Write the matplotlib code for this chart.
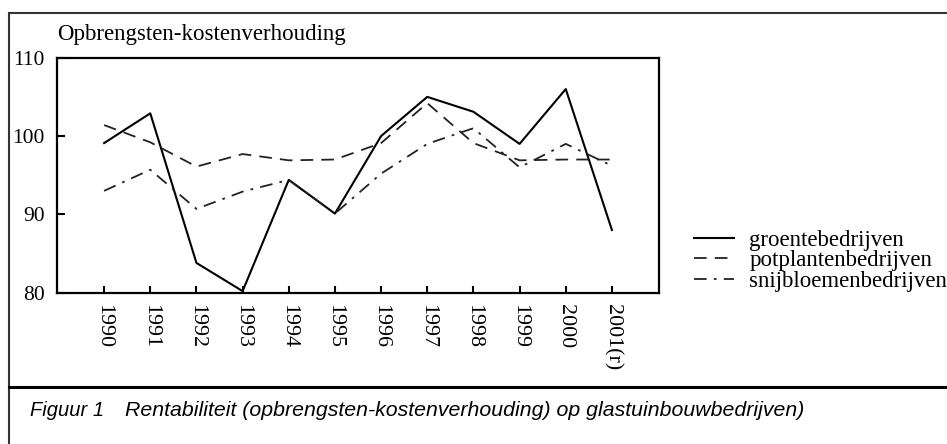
import matplotlib
matplotlib.use("Agg")
import matplotlib.pyplot as plt
from matplotlib.lines import Line2D

# data
years = ["1990", "1991", "1992", "1993", "1994", "1995", "1996",
         "1997", "1998", "1999", "2000", "2001(r)"]
groente = [99.1, 102.9, 83.8, 80.2, 94.4, 90.1, 100.0, 105.0, 103.1, 99.0, 106.0, 88.0]
potplanten = [101.4, 99.2, 96.1, 97.7, 96.9, 97.0, 99.1, 104.2, 99.1, 96.9, 97.0, 97.0]
snijbloemen = [93.0, 95.7, 90.7, 92.9, 94.4, 90.1, 95.2, 99.0, 101.0, 96.0, 99.0, 96.2]
labels = ["groentebedrijven", "potplantenbedrijven", "snijbloemenbedrijven"]
yticks = [80, 90, 100, 110]

serif = ["Liberation Serif", "DejaVu Serif"]
caption_font = ["Liberation Sans Narrow", "Liberation Sans"]

fig = plt.figure(figsize=(9.47, 4.44), dpi=100)
ax = fig.add_axes([0.0602, 0.3408, 0.6357, 0.5292])

x = list(range(len(years)))
ax.plot(x, groente, color="black", lw=1.5, label=labels[0])
ax.plot(x, potplanten, color="#222222", lw=1.3, dashes=(7, 4.5), label=labels[1])
ax.plot(x, snijbloemen, color="#222222", lw=1.3, dashes=(7, 4, 1.5, 4), label=labels[2])

ax.set_xlim(-1.02, 12.02)
ax.set_ylim(80, 110)
ax.set_yticks(yticks)
ax.set_yticklabels([str(t) for t in yticks], family=serif, fontsize=15.5)
ax.set_xticks(x)
ax.set_xticklabels(years, rotation=270, family=serif, fontsize=15.8, va="top", ha="center")
ax.tick_params(axis="y", direction="in", length=6, width=1.5, pad=9)
ax.tick_params(axis="x", direction="in", length=5, width=1.5, pad=8)
for s in ax.spines.values():
    s.set_linewidth(1.6)

ax.text(0.0, 1.055, "Opbrengsten-kostenverhouding", transform=ax.transAxes,
        family=serif, fontsize=16.5, ha="left", va="bottom")

ax.legend(loc="upper left", bbox_to_anchor=(0.733, 0.483), bbox_transform=fig.transFigure,
          frameon=False, prop={"family": serif, "size": 16.5}, handlelength=1.75,
          handletextpad=0.65, labelspacing=-0.02, borderpad=0, borderaxespad=0)

# outer frame and caption rule
fig.add_artist(Line2D([9 / 947, 9 / 947], [0, 1 - 13 / 444], color="#333333", lw=1.5))
fig.add_artist(Line2D([9 / 947, 1], [1 - 13 / 444, 1 - 13 / 444], color="#333333", lw=1.5))
fig.add_artist(Line2D([9 / 947, 1], [1 - 387 / 444, 1 - 387 / 444], color="black", lw=2.2))

fig.text(30 / 947, 1 - 410 / 444, "Figuur 1", family=caption_font,
         style="italic", fontsize=14.5, va="center", ha="left")
fig.text(125 / 947, 1 - 410 / 444, "Rentabiliteit (opbrengsten-kostenverhouding) op glastuinbouwbedrijven)",
         family=caption_font, style="italic", fontsize=15.3, va="center", ha="left")

fig.savefig("out.png", dpi=100)
